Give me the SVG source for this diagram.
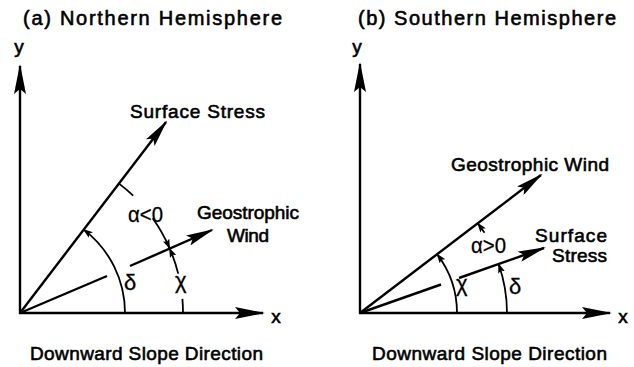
<svg xmlns="http://www.w3.org/2000/svg" width="634" height="367" viewBox="0 0 634 367">
<style>
.ln{stroke:#000;stroke-width:2.4;fill:none}
.arc{stroke:#000;stroke-width:1.8;fill:none}
.big{marker-end:url(#ah)}
.ax{marker-end:url(#axh)}
.sm{marker-end:url(#sh)}
text{font-family:"Liberation Sans",Arial,sans-serif;font-weight:normal;fill:#000;stroke:#000;stroke-width:0.6;font-size:19px}
.ttl{font-size:20px}
.gr{font-size:22px;stroke-width:0.3}
</style>
<defs>
<marker id="ah" markerUnits="userSpaceOnUse" viewBox="0 0 28 11" markerWidth="28" markerHeight="11" refX="26" refY="5.5" orient="auto"><path d="M0,0 L28,5.5 L0,11 L5,5.5 z" fill="#000"/></marker>
<marker id="axh" markerUnits="userSpaceOnUse" viewBox="0 0 30 12" markerWidth="30" markerHeight="12" refX="28" refY="6" orient="auto"><path d="M0,0 L30,6 L0,12 L5,6 z" fill="#000"/></marker>
<marker id="sh" markerUnits="userSpaceOnUse" viewBox="0 0 10 7" markerWidth="10" markerHeight="7" refX="9" refY="3.5" orient="auto"><path d="M0,0 L10,3.5 L0,7 L2,3.5 z" fill="#000"/></marker>
</defs>

<g id="panel-a">
<g id="a-labels">
<text class="ttl" x="23" y="25" textLength="259" lengthAdjust="spacing">(a) Northern Hemisphere</text>
<text x="19" y="53" text-anchor="middle">y</text>
<text x="276" y="323" text-anchor="middle">x</text>
<text x="30" y="360" textLength="233" lengthAdjust="spacing">Downward Slope Direction</text>
</g>
<g id="a-surface-stress"><text x="130" y="118" textLength="135" lengthAdjust="spacing">Surface Stress</text></g>
<g id="a-geostrophic-wind"><text x="197" y="219" textLength="102" lengthAdjust="spacing">Geostrophic</text><text x="227" y="242" textLength="42" lengthAdjust="spacing">Wind</text></g>
<g id="a-alpha"><text x="128" y="222" class="gr" textLength="35" lengthAdjust="spacingAndGlyphs">α&lt;0</text></g>
<g id="a-delta"><text x="124" y="290" class="gr">δ</text></g>
<g id="a-chi"><text x="175" y="288" class="gr">χ</text></g>
</g>

<g id="panel-b">
<g id="b-labels">
<text class="ttl" x="358" y="25" textLength="258" lengthAdjust="spacing">(b) Southern Hemisphere</text>
<text x="357" y="53" text-anchor="middle">y</text>
<text x="623" y="323" text-anchor="middle">x</text>
<text x="372" y="360" textLength="235" lengthAdjust="spacing">Downward Slope Direction</text>
</g>
<g id="b-geostrophic-wind"><text x="451" y="171" textLength="158" lengthAdjust="spacing">Geostrophic Wind</text></g>
<g id="b-surface-stress"><text x="535" y="242" textLength="72" lengthAdjust="spacing">Surface</text><text x="552" y="262" textLength="55" lengthAdjust="spacing">Stress</text></g>
<g id="b-alpha"><text x="471" y="253" class="gr" textLength="35" lengthAdjust="spacingAndGlyphs">α&gt;0</text></g>
<g id="b-chi"><text x="456" y="291" class="gr">χ</text></g>
<g id="b-delta"><text x="509" y="294" class="gr">δ</text></g>
</g>

<g id="connectors">
<line class="ln ax" x1="20" y1="314" x2="20" y2="66"/>
<line class="ln ax" x1="19" y1="313" x2="263" y2="313"/>
<line class="ln big" x1="20" y1="313" x2="166" y2="122"/>
<line class="ln" x1="20" y1="313" x2="107" y2="276"/>
<line class="ln big" x1="130" y1="266" x2="212" y2="230"/>
<path class="arc sm" d="M125,313 A105,105 0 0 0 83.7,229.6"/>
<path class="arc" d="M119,183.6 A163,163 0 0 1 133.2,195.7"/>
<path class="arc sm" d="M152.7,218.3 A163,163 0 0 1 169.6,248.3"/>
<path class="arc" d="M183,313 A163,163 0 0 0 182.4,298.8"/>
<path class="arc sm" d="M178.2,273.6 A163,163 0 0 0 169.6,248.3"/>
<line class="ln ax" x1="360" y1="314" x2="360" y2="64"/>
<line class="ln ax" x1="359" y1="313" x2="610" y2="313"/>
<line class="ln big" x1="360" y1="313" x2="541" y2="175"/>
<line class="ln" x1="360" y1="313" x2="441" y2="284.5"/>
<line class="ln big" x1="459" y1="278" x2="544" y2="248"/>
<path class="arc sm" d="M457,313 A97,97 0 0 0 437.1,254.2"/>
<path class="arc sm" d="M507,313 A147,147 0 0 0 498.6,264"/>
<path class="arc sm" d="M484.5,232.8 A148,148 0 0 0 477.7,223.3"/>
</g>
</svg>
